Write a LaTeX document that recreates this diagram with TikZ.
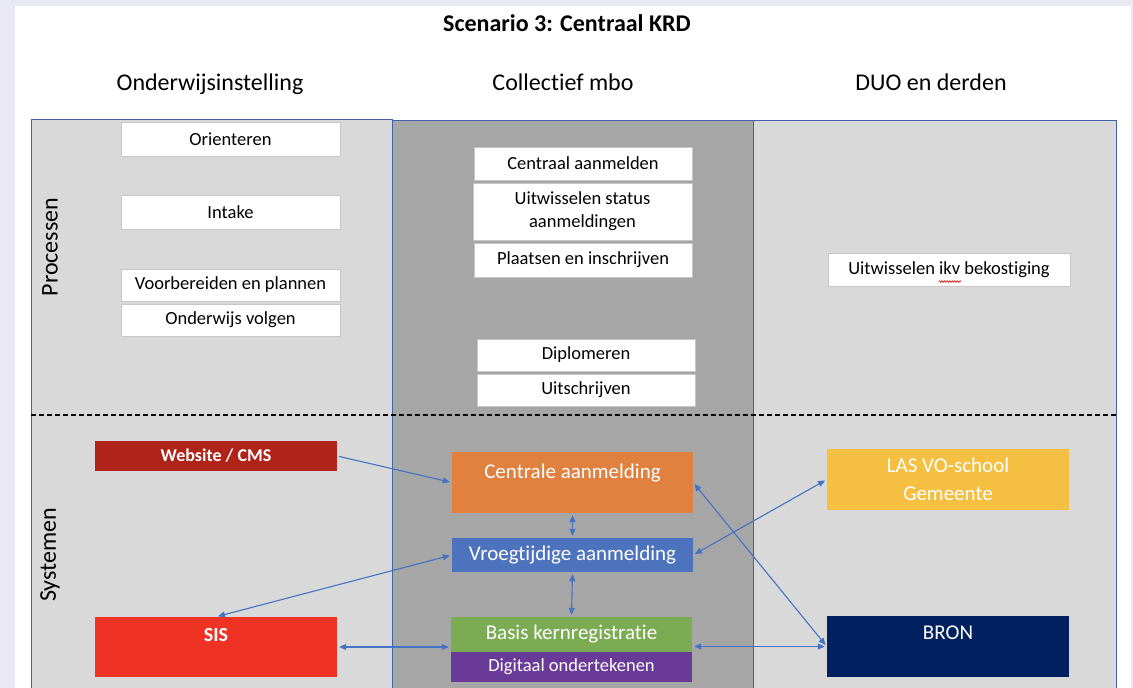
\documentclass[tikz,border=0pt]{standalone}
\usepackage{fontspec}
\setmainfont{Carlito}[Ligatures=NoCommon]
\usetikzlibrary{arrows.meta,decorations.pathmorphing}
\definecolor{bglav}{RGB}{233,233,243}
\definecolor{panelborder}{RGB}{68,96,166}
\definecolor{lightpanel}{RGB}{217,217,217}
\definecolor{darkpanel}{RGB}{166,166,166}
\definecolor{arrowblue}{RGB}{68,114,196}
\definecolor{webred}{RGB}{176,35,24}
\definecolor{sisred}{RGB}{238,50,36}
\definecolor{orangebox}{RGB}{224,129,64}
\definecolor{bluebox}{RGB}{78,115,190}
\definecolor{greenbox}{RGB}{123,171,83}
\definecolor{purplebox}{RGB}{106,58,153}
\definecolor{yellowbox}{RGB}{245,191,66}
\definecolor{navybox}{RGB}{0,32,96}
\tikzset{
  proc/.style={draw=black!22, fill=white, inner sep=0pt, align=center,
    font=\fontsize{18.5}{23}\selectfont},
  sysbox/.style={inner sep=0pt, text=white, align=center,
    font=\fontsize{21}{28}\selectfont},
  syslabel/.style={inner sep=0pt, text=white, anchor=base,
    font=\fontsize{21}{28}\selectfont},
  header/.style={inner sep=0pt, anchor=base, font=\fontsize{24}{28}\selectfont},
  panel/.style={draw=panelborder, line width=1pt},
  arr/.style={draw=arrowblue, line width=1.1pt,
    {Triangle[length=7pt,width=6pt]}-{Triangle[length=7pt,width=6pt]},
    shorten >=2pt, shorten <=2pt},
  arrone/.style={draw=arrowblue, line width=1.1pt,
    -{Triangle[length=7pt,width=6pt]}, shorten >=2pt, shorten <=2pt}
}
\begin{document}
\begin{tikzpicture}[x=1pt,y=-1pt]
\useasboundingbox (0,0) rectangle (1133,688);
\clip (0,0) rectangle (1133,688);
% background
\fill[bglav] (0,0) rectangle (1133,688);
\fill[white] (15,6) rectangle (1131,700);
% panels
\fill[lightpanel] (31,119) rectangle (392,700);
\fill[darkpanel] (392,120) rectangle (753,700);
\fill[lightpanel] (753,120) rectangle (1116,700);
\draw[panel] (31,700) -- (31,119) -- (392,119) -- (392,700);
\draw[panel] (392,120) -- (753,120) -- (753,700);
\draw[panel] (753,120) -- (1116,120) -- (1116,700);
% dashed separator
\draw[black, line width=1.1pt, dash pattern=on 5pt off 3pt] (31,415) -- (1116,415);
% titles
\node[header, font=\fontsize{24}{28}\selectfont\bfseries] (title) at (567,31.5) {Scenario 3: Centraal KRD};
\node[header] (h1) at (210,90) {Onderwijsinstelling};
\node[header] (h2) at (563,90) {Collectief mbo};
\node[header] (h3) at (931,90) {DUO en derden};
\node[inner sep=0pt, rotate=90, font=\fontsize{24}{28}\selectfont] (proclbl) at (50,247) {Processen};
\node[inner sep=0pt, rotate=90, font=\fontsize{24}{28}\selectfont] (syslbl) at (50,555) {Systemen};
% process boxes
\node[proc, minimum width=219pt, minimum height=34pt] (orient) at (230.5,139) {Orienteren};
\node[proc, minimum width=219pt, minimum height=34pt] (intake) at (230.5,212) {Intake};
\node[proc, minimum width=219pt, minimum height=32pt] (voorb) at (230.5,285) {Voorbereiden en plannen};
\node[proc, minimum width=219pt, minimum height=32pt] (ondvolg) at (230.5,320) {Onderwijs volgen};
\node[proc, minimum width=218pt, minimum height=33pt] (centraal) at (583,163.5) {Centraal aanmelden};
\node[proc, minimum width=219pt, minimum height=57pt] (uitstat) at (582.5,211.5) {Uitwisselen status\\aanmeldingen};
\node[proc, minimum width=218pt, minimum height=34pt] (plaatsen) at (583,260) {Plaatsen en inschrijven};
\node[proc, minimum width=218pt, minimum height=32pt] (diplom) at (586,355) {Diplomeren};
\node[proc, minimum width=218pt, minimum height=32pt] (uitschr) at (586,390) {Uitschrijven};
\node[proc, minimum width=242pt, minimum height=33pt] (bekost) at (949,269.5) {Uitwisselen ikv bekostiging};
\draw[red!85!black, line width=0.6pt, decorate, decoration={snake, amplitude=0.8pt, segment length=2.6pt}] (938.5,281.5) -- (961,281.5);
% system boxes
\node[sysbox, fill=webred, minimum width=242pt, minimum height=30pt, font=\fontsize{18}{22}\selectfont\bfseries] (web) at (216,456) {Website / CMS};
\node[sysbox, fill=sisred, minimum width=242pt, minimum height=60pt] (sis) at (216,647) {};
\node[syslabel, font=\fontsize{20}{24}\selectfont\bfseries] (sistxt) at (216,641) {SIS};
\node[sysbox, fill=orangebox, minimum width=241pt, minimum height=61pt] (centrale) at (572.5,482.5) {};
\node[syslabel] (centraletxt) at (572.5,478) {Centrale aanmelding};
\node[sysbox, fill=bluebox, minimum width=241pt, minimum height=34pt] (vroeg) at (572.5,555) {Vroegtijdige aanmelding};
\node[sysbox, fill=greenbox, minimum width=241pt, minimum height=35pt] (basis) at (571.5,634.5) {Basis kernregistratie};
\node[sysbox, fill=purplebox, minimum width=241pt, minimum height=30pt, font=\fontsize{18.5}{22}\selectfont] (digi) at (571.5,667) {Digitaal ondertekenen};
\node[sysbox, fill=yellowbox, minimum width=242pt, minimum height=61pt] (las) at (948,479.5) {LAS VO-school\\Gemeente};
\node[sysbox, fill=navybox, minimum width=242pt, minimum height=61pt] (bron) at (948,646.5) {};
\node[syslabel] (brontxt) at (948,639) {BRON};
% connectors
\draw[arrone] (web.east) -- (centrale.west);
\draw[arr] (sis.north) -- (vroeg.west);
\draw[arr] (sis.east) -- (sis.east -| basis.west);
\draw[arr] (centrale.south) -- (vroeg.north);
\draw[arr] (vroeg.south) -- (basis.north);
\draw[arr] (vroeg.east) -- (las.west);
\draw[arr] (centrale.east) -- (bron.west);
\draw[arr] (bron.west -| basis.east) -- (bron.west);
\end{tikzpicture}
\end{document}
